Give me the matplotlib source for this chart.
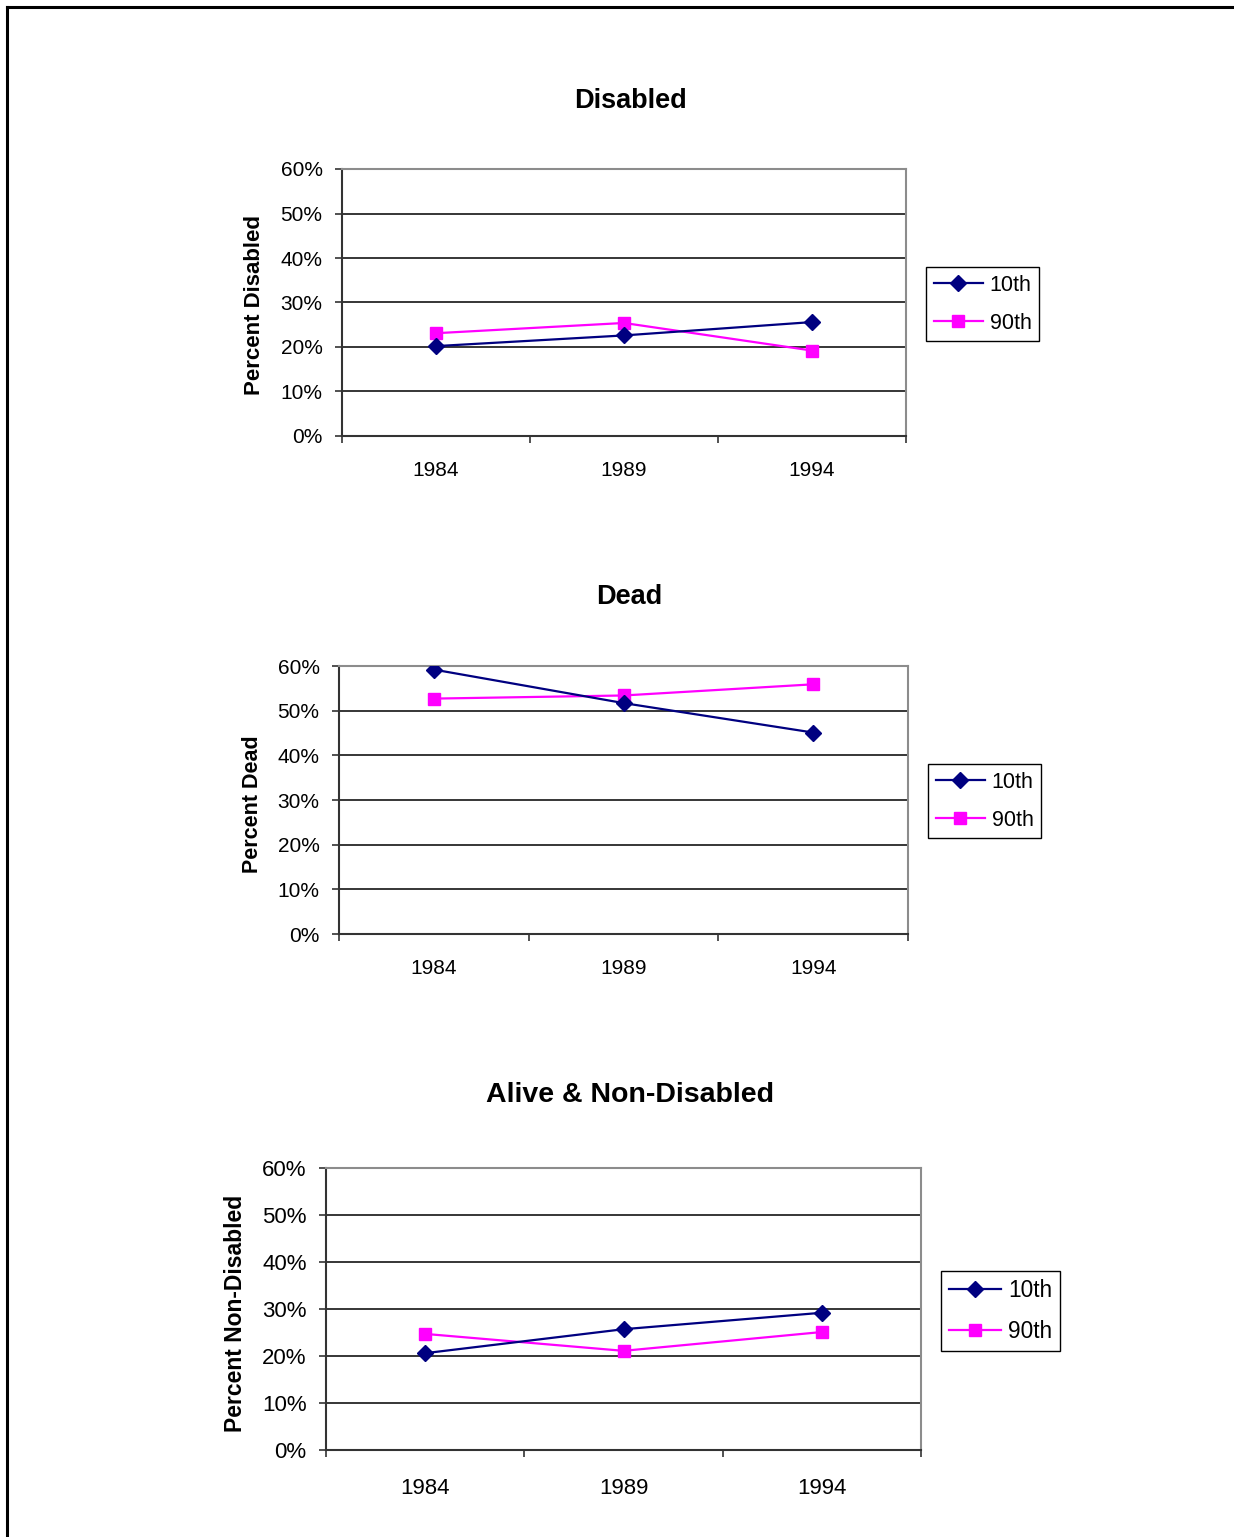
import numpy as np
import matplotlib
matplotlib.use("Agg")
import matplotlib.pyplot as plt
from matplotlib.lines import Line2D
from matplotlib.ticker import FixedLocator, PercentFormatter

plt.rcParams["font.family"] = ["Liberation Sans", "DejaVu Sans"]

# ---------------------------------------------------------------------------
# Data (percent)
# ---------------------------------------------------------------------------
years = ["1984", "1989", "1994"]
series_names = ["10th", "90th"]

disabled_10th = [20.2, 22.6, 25.6]
disabled_90th = [23.1, 25.4, 19.2]

dead_10th = [59.2, 51.7, 45.1]
dead_90th = [52.7, 53.4, 55.9]

alive_10th = [20.6, 25.7, 29.2]
alive_90th = [24.7, 21.1, 25.1]

y_ticks = [0, 10, 20, 30, 40, 50, 60]

W, H = 1234, 1537
NAVY = "#000080"
MAGENTA = "#FF00FF"


def px_box(left, top, right, bottom):
    """pixel box -> figure fraction rect"""
    return [left / W, 1 - bottom / H, (right - left) / W, (bottom - top) / H]


def panel(fig, rect, title, title_xy, ylabel, ylabel_xy, v10, v90, legend_xy,
          tick_fs=15, title_fs=19.5, label_fs=16, legend_fs=15.5, xpad=18):
    ax = fig.add_axes(rect)
    x = np.arange(1, len(years) + 1)

    ax.plot(x, v10, color=NAVY, lw=1.6, marker="D", ms=8, mfc=NAVY, mec=NAVY,
            label=series_names[0], zorder=4)
    ax.plot(x, v90, color=MAGENTA, lw=1.6, marker="s", ms=8, mfc=MAGENTA, mec=MAGENTA,
            label=series_names[1], zorder=3)

    ax.set_xlim(0.5, len(years) + 0.5)
    ax.set_ylim(0, 60)

    # y axis
    ax.yaxis.set_major_locator(FixedLocator(y_ticks))
    ax.yaxis.set_major_formatter(PercentFormatter(decimals=0))
    ax.tick_params(axis="y", direction="out", length=5, width=1.2, color="#333333",
                   labelsize=tick_fs, pad=9)
    for v in y_ticks[1:-1]:
        ax.axhline(v, color="black", lw=1.1, zorder=1)

    # x axis: ticks between categories, labels at centers
    ax.xaxis.set_major_locator(FixedLocator(np.arange(0.5, len(years) + 1, 1)))
    ax.xaxis.set_minor_locator(FixedLocator(x))
    ax.set_xticklabels([], minor=False)
    ax.set_xticklabels(years, minor=True)
    ax.tick_params(axis="x", which="major", direction="out", length=5, width=1.2,
                   color="#333333")
    ax.tick_params(axis="x", which="minor", length=0, labelsize=tick_fs, pad=xpad)

    for s in ("left", "bottom"):
        ax.spines[s].set_color("#333333")
        ax.spines[s].set_linewidth(1.5)
    for s in ("top", "right"):
        ax.spines[s].set_color("#8c8c8c")
        ax.spines[s].set_linewidth(1.5)

    fig.text(title_xy[0] / W, 1 - title_xy[1] / H, title, ha="center", va="center",
             fontsize=title_fs, fontweight="bold")
    fig.text(ylabel_xy[0] / W, 1 - ylabel_xy[1] / H, ylabel, ha="center", va="center",
             rotation=90, fontsize=label_fs, fontweight="bold")

    leg = ax.legend(loc="upper left", bbox_to_anchor=(legend_xy[0] / W, 1 - legend_xy[1] / H),
                    bbox_transform=fig.transFigure, fontsize=legend_fs, frameon=True,
                    fancybox=False, framealpha=1, edgecolor="black", borderaxespad=0,
                    handlelength=2.3, handletextpad=0.3, labelspacing=0.8,
                    borderpad=0.35)
    leg.get_frame().set_linewidth(1.0)
    return ax


fig = plt.figure(figsize=(W / 100, H / 100), dpi=100)

panel(fig, px_box(342, 169, 906, 436), "Disabled", (630, 101),
      "Percent Disabled", (255, 305), disabled_10th, disabled_90th, (926, 267))

panel(fig, px_box(339, 666, 908, 934), "Dead", (629, 597),
      "Percent Dead", (252, 804), dead_10th, dead_90th, (928, 764),
      label_fs=15.5)

panel(fig, px_box(326, 1168, 921, 1450), "Alive & Non-Disabled", (630, 1095),
      "Percent Non-Disabled", (235, 1313), alive_10th, alive_90th, (941, 1271),
      tick_fs=16, title_fs=20.5, label_fs=16.5, legend_fs=16.3, xpad=20)

# page border (left and top edges only)
fig.add_artist(Line2D([7 / W, 7 / W], [0, 1 - 7 / H], color="black", lw=2.2,
                      transform=fig.transFigure))
fig.add_artist(Line2D([7 / W, 1], [1 - 7 / H, 1 - 7 / H], color="black", lw=2.2,
                      transform=fig.transFigure))

fig.savefig("out.png", dpi=100, facecolor="white")
